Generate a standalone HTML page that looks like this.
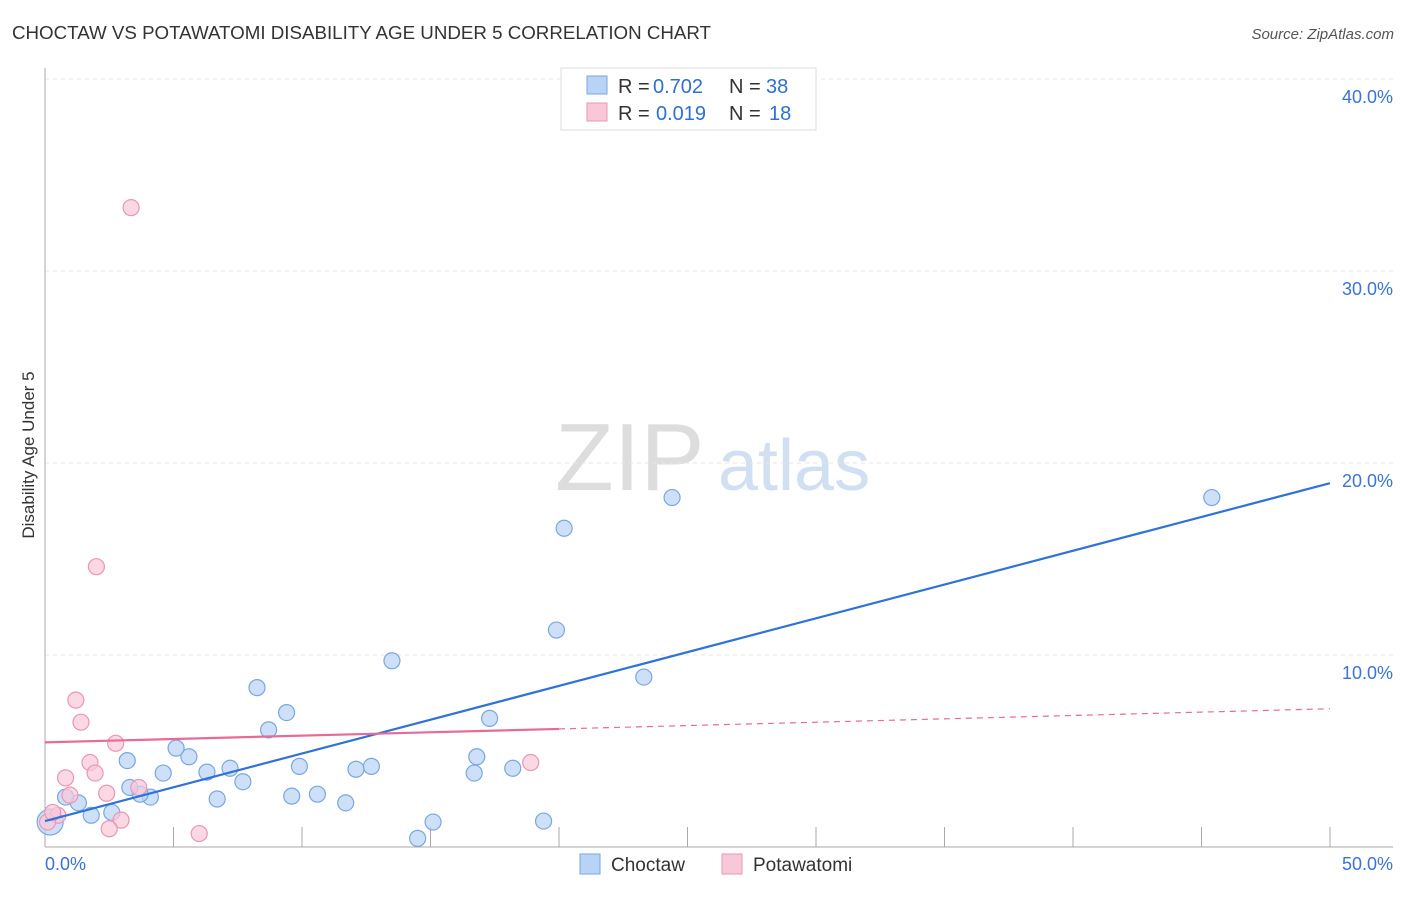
<!DOCTYPE html>
<html><head><meta charset="utf-8"><style>
body{margin:0;background:#fff;font-family:"Liberation Sans",sans-serif;}
svg text{font-family:"Liberation Sans",sans-serif;}
</style></head><body>
<svg id="c" width="1406" height="892" viewBox="0 0 1406 892">
<text x="12" y="39" font-size="18" fill="#333" textLength="699" lengthAdjust="spacingAndGlyphs">CHOCTAW VS POTAWATOMI DISABILITY AGE UNDER 5 CORRELATION CHART</text>
<text x="1394" y="39" font-size="15" fill="#555" font-style="italic" text-anchor="end">Source: ZipAtlas.com</text>
<text x="34" y="455" font-size="17" fill="#333" text-anchor="middle" transform="rotate(-90 34 455)">Disability Age Under 5</text>
<text x="555" y="490" font-size="96" fill="#ddd" font-family="Liberation Serif">ZIP</text>
<text x="718" y="490" font-size="72" fill="#d0dff2">atlas</text>
<g id="grid"></g><g id="marks"></g>
<g>
<rect x="561" y="68" width="255" height="62" fill="#fff" stroke="#ddd"/>
<rect x="587" y="76" width="20" height="18" fill="#b8d3f5" stroke="#7aa7e0"/>
<text x="618" y="93" font-size="20" fill="#333">R =</text>
<text x="653" y="93" font-size="20" fill="#2e6fd6">0.702</text>
<text x="729" y="93" font-size="20" fill="#333">N =</text>
<text x="766" y="93" font-size="20" fill="#2e6fd6">38</text>
<rect x="587" y="103" width="20" height="18" fill="#f9c8d8" stroke="#ea97b3"/>
<text x="618" y="120" font-size="20" fill="#333">R =</text>
<text x="656" y="120" font-size="20" fill="#2e6fd6">0.019</text>
<text x="729" y="120" font-size="20" fill="#333">N =</text>
<text x="769" y="120" font-size="20" fill="#2e6fd6">18</text>
</g>
<g>
<rect x="580" y="854" width="20" height="20" fill="#b8d3f5" stroke="#7aa7e0"/>
<text x="611" y="871" font-size="19" fill="#333">Choctaw</text>
<rect x="722" y="854" width="20" height="20" fill="#f9c8d8" stroke="#ea97b3"/>
<text x="753" y="871" font-size="19" fill="#333">Potawatomi</text>
</g>
</svg>
<script>
const yTicks=[10,20,30,40];
const yTickLabels=["10.0%","20.0%","30.0%","40.0%"];
const xTicks=[0,5,10,15,20,25,30,35,40,45,50];
const choctawX=[45.4,24.4,20.2,19.9,23.3,13.5,8.25,9.4,8.7,17.3,16.8,16.7,18.2,12.7,12.1,9.9,7.2,7.7,6.3,5.6,5.1,4.6,3.2,6.7,9.6,10.6,11.7,4.1,3.7,3.3,2.6,1.8,1.3,0.8,15.1,14.5,19.4,0.2];
const choctawY=[18.2,18.2,16.6,11.3,8.85,9.7,8.3,7.0,6.1,6.7,4.7,3.85,4.1,4.2,4.05,4.2,4.1,3.4,3.9,4.7,5.15,3.85,4.5,2.5,2.65,2.75,2.3,2.6,2.75,3.1,1.8,1.65,2.3,2.6,1.3,0.45,1.35,1.3];
const potX=[3.35,2.0,1.2,1.4,2.75,1.75,1.95,0.8,3.65,2.4,0.97,2.96,2.5,6.0,18.9,0.5,0.1,0.3];
const potY=[33.3,14.6,7.65,6.5,5.4,4.4,3.85,3.6,3.1,2.8,2.7,1.4,0.95,0.7,4.4,1.65,1.3,1.8];
const choctawTrend=[1.35,18.95];
const potTrend=[5.45,7.2];
const X=v=>45+v*25.7, Y=v=>847-v*19.2;
const NS="http://www.w3.org/2000/svg";
const grid=document.getElementById('grid'), marks=document.getElementById('marks');
function mk(tag,attrs,parent){const e=document.createElementNS(NS,tag);for(const k in attrs)e.setAttribute(k,attrs[k]);parent.appendChild(e);return e;}
yTicks.forEach((t,i)=>{
 const l=mk('line',{x1:45,x2:1393,y1:Y(t),y2:Y(t),stroke:'#e6e6e6','stroke-dasharray':'4,4'},grid);
 
 
 const tx=mk('text',{x:1393,y:Y(t)+24,'font-size':18,fill:'#3a72d8','text-anchor':'end'},grid);
 tx.textContent=yTickLabels[i];
 
 
});
const ax=mk('line',{x1:45,x2:45,y1:68,y2:847,stroke:'#aaa'},grid);


const bx=mk('line',{x1:45,x2:1393,y1:847,y2:847,stroke:'#aaa'},grid);


xTicks.forEach(t=>{
 const l=mk('line',{x1:X(t),x2:X(t),y1:827,y2:847,stroke:'#aaa'},grid);
 
 
});
const xl0=mk('text',{x:45,y:870,'font-size':18,fill:'#3a72d8'},grid);xl0.textContent='0.0%';


const xl1=mk('text',{x:1393,y:870,'font-size':18,fill:'#3a72d8','text-anchor':'end'},grid);xl1.textContent='50.0%';


choctawX.forEach((x,i)=>{
 const c=mk('circle',{cx:X(x),cy:Y(choctawY[i]),r:i==choctawX.length-1?13:8,fill:'#b8d3f5','fill-opacity':0.7,stroke:'#7aa7e0','stroke-width':1.2},marks);
 
 
});
potX.forEach((x,i)=>{
 const c=mk('circle',{cx:X(x),cy:Y(potY[i]),r:8,fill:'#f9c8d8','fill-opacity':0.7,stroke:'#ea97b3','stroke-width':1.2},marks);
 
 
});
const bt=mk('line',{x1:X(0),y1:Y(choctawTrend[0]),x2:X(50),y2:Y(choctawTrend[1]),stroke:'#2f72d8','stroke-width':2.2},marks);


const pm=potTrend[0]+(potTrend[1]-potTrend[0])*20/50;
const pt=mk('line',{x1:X(0),y1:Y(potTrend[0]),x2:X(20),y2:Y(pm),stroke:'#e86a96','stroke-width':2.2},marks);


const pd=mk('line',{x1:X(20),y1:Y(pm),x2:X(50),y2:Y(potTrend[1]),stroke:'#e86a96','stroke-width':1.2,'stroke-dasharray':'6,5'},marks);


</script>
</body></html>
